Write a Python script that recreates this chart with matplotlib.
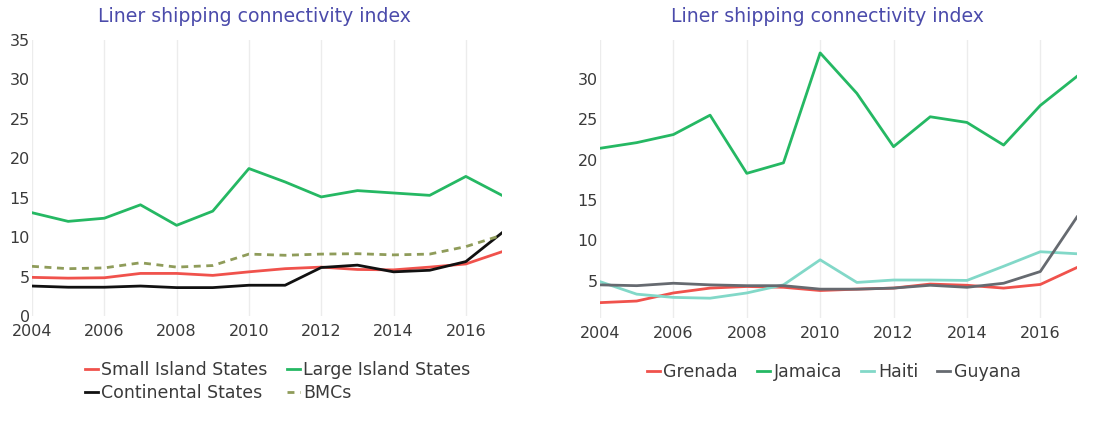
import matplotlib.pyplot as plt
import numpy as np

years = np.arange(2004, 2018)

# left panel: group averages
small_island = [4.9, 4.8, 4.85, 5.4, 5.4, 5.15, 5.6, 6.0, 6.2, 5.9, 5.85, 6.2, 6.6, 8.15]
large_island = [13.1, 12.0, 12.4, 14.1, 11.5, 13.3, 18.7, 17.0, 15.1, 15.9, 15.6, 15.3, 17.7, 15.3]
continental = [3.8, 3.65, 3.65, 3.8, 3.6, 3.6, 3.9, 3.9, 6.15, 6.45, 5.6, 5.8, 6.9, 10.55]
bmcs = [6.3, 6.0, 6.1, 6.75, 6.2, 6.4, 7.85, 7.7, 7.85, 7.9, 7.75, 7.85, 8.8, 10.25]

# right panel: single countries
grenada = [2.3, 2.5, 3.5, 4.1, 4.3, 4.2, 3.8, 3.97, 4.1, 4.6, 4.45, 4.1, 4.55, 6.65]
jamaica = [21.4, 22.1, 23.1, 25.5, 18.3, 19.6, 33.2, 28.2, 21.6, 25.3, 24.6, 21.8, 26.7, 30.3]
haiti = [4.9, 3.35, 2.95, 2.85, 3.5, 4.5, 7.6, 4.8, 5.1, 5.1, 5.05, 6.8, 8.6, 8.35]
guyana = [4.5, 4.4, 4.7, 4.5, 4.4, 4.4, 3.97, 3.97, 4.1, 4.45, 4.2, 4.7, 6.15, 12.9]

title = "Liner shipping connectivity index"
RED = "#f0524c"
GREEN = "#25b863"
BLACK = "#111111"
OLIVE = "#8f9c5a"
TEAL = "#82d8c8"
GRAY = "#666a70"
TXT = "#3a3a3a"

plt.rcParams['font.family'] = ['DejaVu Sans']

fig = plt.figure(figsize=(11.14, 4.21), dpi=100)
W, H = 1114, 421


def axes_px(x0, x1, y0, y1):
    return fig.add_axes([x0 / W, 1 - y1 / H, (x1 - x0) / W, (y1 - y0) / H])


def style(ax):
    for s in ax.spines.values():
        s.set_visible(False)
    ax.set_xlim(2004, 2017)
    ax.set_xticks(range(2004, 2017, 2))
    ax.grid(axis='x', color='#ececec', lw=1)
    ax.set_axisbelow(True)
    ax.tick_params(length=0, labelsize=11.5, colors=TXT)
    ax.tick_params(axis='x', pad=6)
    ax.tick_params(axis='y', pad=1.5)


legend_kw = dict(loc='upper left', frameon=False, fontsize=12.5, handlelength=0.75,
                 handletextpad=0.2, columnspacing=1.1, labelspacing=0.3,
                 labelcolor=TXT, borderaxespad=0, borderpad=0)

ax1 = axes_px(32, 502, 40, 316)
style(ax1)
ax1.set_ylim(0, 35)
ax1.set_yticks(range(0, 36, 5))
l_small, = ax1.plot(years, small_island, color=RED, lw=2, label="Small Island States")
l_large, = ax1.plot(years, large_island, color=GREEN, lw=2, label="Large Island States")
l_cont, = ax1.plot(years, continental, color=BLACK, lw=2, label="Continental States")
l_bmc, = ax1.plot(years, bmcs, color=OLIVE, lw=2, ls=(0, (2.5, 2)), label="BMCs")
fig.text(254 / W, 1 - 17 / H, title, ha='center', va='center', fontsize=13.6, color="#4b4bab")
# row-wise order like the original legend
ax1.legend([l_small, l_cont, l_large, l_bmc],
           [l.get_label() for l in (l_small, l_cont, l_large, l_bmc)],
           ncol=2, bbox_to_anchor=((85 - 32) / 470, -45 / 276), **legend_kw)

ax2 = axes_px(600, 1077, 40, 318)
style(ax2)
ax2.set_ylim(0.4, 34.8)
ax2.set_yticks(range(5, 31, 5))
ax2.plot(years, grenada, color=RED, lw=2, label="Grenada")
ax2.plot(years, jamaica, color=GREEN, lw=2, label="Jamaica")
ax2.plot(years, haiti, color=TEAL, lw=2, label="Haiti")
ax2.plot(years, guyana, color=GRAY, lw=2, label="Guyana")
fig.text(827 / W, 1 - 17 / H, title, ha='center', va='center', fontsize=13.6, color="#4b4bab")
ax2.legend(ncol=4, bbox_to_anchor=((647 - 600) / 477, -45 / 278), **legend_kw)

fig.savefig("out.png", dpi=100)
